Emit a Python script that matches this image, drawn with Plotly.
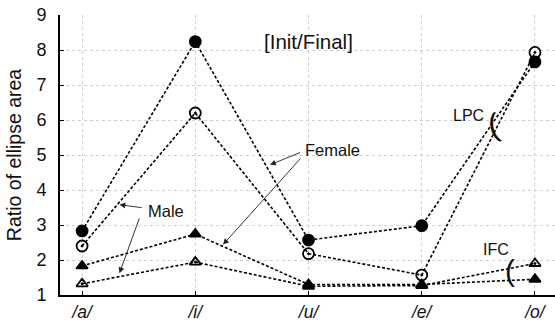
import plotly.graph_objects as go

categories = ["/a/", "/i/", "/u/", "/e/", "/o/"]
female_lpc = [2.83, 8.24, 2.57, 2.98, 7.66]
male_lpc = [2.40, 6.20, 2.18, 1.57, 7.93]
female_ifc = [1.83, 2.74, 1.30, 1.30, 1.45]
male_ifc = [1.32, 1.94, 1.25, 1.27, 1.90]
y_ticks = [1, 2, 3, 4, 5, 6, 7, 8, 9]

xs = list(range(len(categories)))
font = "Liberation Sans, Arial, sans-serif"
txt = "#111111"
dash = "3px,2px"
xr = [-0.195, 4.177]
yr = [1, 9]

fig = go.Figure()
series = [
    (female_lpc, "circle", 11),
    (male_lpc, "circle-open-dot", 11),
    (female_ifc, "triangle-up", 10),
    (male_ifc, "triangle-up-open-dot", 10),
]
for vals, sym, sz in series:
    fig.add_trace(go.Scatter(
        x=xs, y=vals, mode="lines+markers",
        line=dict(color="black", width=1.6, dash=dash),
        marker=dict(symbol=sym, size=sz, color="black",
                    line=dict(color="black", width=1.8)),
        showlegend=False, cliponaxis=False,
    ))

def arrow(sx, sy, tx, ty):
    fig.add_annotation(x=tx, y=ty, ax=sx, ay=sy,
                       xref="x", yref="y", axref="x", ayref="y",
                       text="", showarrow=True, arrowhead=2, arrowsize=1.3,
                       arrowwidth=0.9, arrowcolor="#222")

def label(x, y, text, size, angle=0):
    fig.add_annotation(x=x, y=y, text=text, showarrow=False, textangle=angle,
                       xref="x", yref="y",
                       font=dict(family=font, size=size, color=txt))

# Male arrows
arrow(0.54, 3.49, 0.33, 3.58)
arrow(0.51, 3.23, 0.33, 1.62)
# Female arrows
arrow(1.94, 5.09, 1.66, 4.72)
arrow(1.94, 4.94, 1.245, 2.44)

label(0.74, 3.39, "Male", 16.5)
label(2.21, 5.14, "Female", 16.5)
label(3.41, 6.14, "LPC", 16)
label(3.66, 2.29, "IFC", 16)
label(3.63, 5.86, "(", 32, -12)
label(3.78, 1.69, "(", 30)
label(2.0, 8.23, "[Init/Final]", 20.5)

fig.update_layout(
    width=555, height=322,
    margin=dict(l=60, r=0, t=15, b=27),
    paper_bgcolor="white", plot_bgcolor="white",
    font=dict(family=font, color=txt),
    xaxis=dict(
        range=xr, tickmode="array", tickvals=xs, ticktext=categories,
        tickfont=dict(size=17.5, family=font, style="italic", color=txt),
        showgrid=True, gridcolor="#cfcfcf", griddash="dot", gridwidth=1,
        showline=True, linecolor="black", linewidth=2, mirror=False,
        ticks="inside", ticklen=4, tickcolor="black", zeroline=False,
        ticklabelstandoff=0, automargin=False,
    ),
    yaxis=dict(
        range=yr, tickmode="array", tickvals=y_ticks,
        tickfont=dict(size=18, family=font, color=txt), showgrid=True,
        gridcolor="#cfcfcf", griddash="dot", gridwidth=1,
        showline=True, linecolor="black", linewidth=2, mirror=False,
        ticks="inside", ticklen=4, tickcolor="black", zeroline=False,
        ticklabelstandoff=8, automargin=False,
        title=dict(text="Ratio of ellipse area",
                   font=dict(size=19.5, family=font, color=txt), standoff=10),
    ),
    xaxis2=dict(overlaying="x", side="top", range=xr, tickmode="array",
                tickvals=xs, showticklabels=False, showgrid=False,
                showline=True, linecolor="#333", linewidth=1,
                ticks="inside", ticklen=4, tickcolor="#333", zeroline=False,
                automargin=False),
    yaxis2=dict(overlaying="y", side="right", range=yr, tickmode="array",
                tickvals=y_ticks, showticklabels=False, showgrid=False,
                showline=False, ticks="inside", ticklen=4, tickcolor="#333",
                zeroline=False, automargin=False),
)

fig.write_html("out.html")
